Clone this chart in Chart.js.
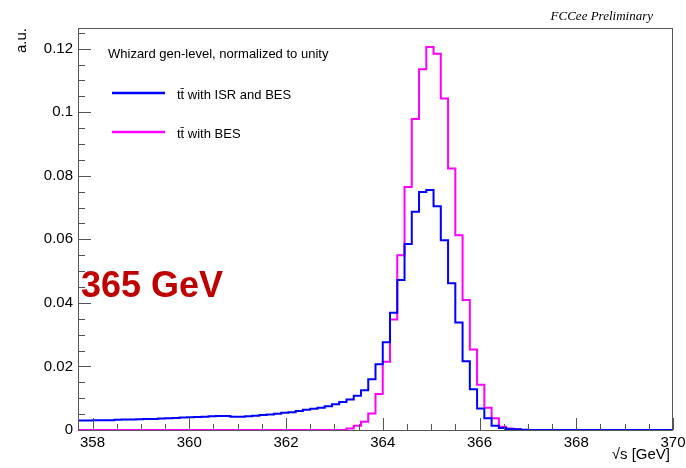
<!DOCTYPE html>
<html>
<head>
<meta charset="utf-8">
<script src="https://cdn.jsdelivr.net/npm/chart.js@4.4.1/dist/chart.umd.min.js"></script>
<style>
  body { margin: 0; background: #fff; }
  #wrap { width: 686px; height: 468px; }
</style>
</head>
<body>
<div id="wrap"><canvas id="myChart" width="686" height="468"></canvas></div>
<script>
// histogram binning: 0.15 GeV bins, visible range 357.7 - 370
const binLow = 357.7, binWidth = 0.15, xMax = 370;

const seriesNames = ['tt\u0304 with ISR and BES', 'tt\u0304 with BES'];

// tt with ISR and BES (blue)
const isrBes = [
  0.0030, 0.0030, 0.0031, 0.0031, 0.0031, 0.0032, 0.0033, 0.0033, 0.0034, 0.0035,
  0.0035, 0.0036, 0.0037, 0.0038, 0.0039, 0.0040, 0.0041, 0.0042, 0.0043, 0.0044,
  0.0044, 0.0042, 0.0042, 0.0043, 0.0045, 0.0047, 0.0049, 0.0051, 0.0054, 0.0056,
  0.0060, 0.0064, 0.0067, 0.0070, 0.0075, 0.0081, 0.0088, 0.0096, 0.0108, 0.0125,
  0.0160, 0.0207, 0.0276, 0.0369, 0.0472, 0.0585, 0.0687, 0.0749, 0.0755, 0.0704,
  0.0597, 0.0462, 0.0338, 0.0216, 0.0128, 0.0068, 0.0037, 0.0013, 0.0006, 0.0003,
  0.0002, 0.0001, 0, 0, 0, 0, 0, 0, 0, 0,
  0, 0, 0, 0, 0, 0, 0, 0, 0, 0,
  0, 0
];

// tt with BES only (magenta)
const besOnly = [
  0, 0, 0, 0, 0, 0, 0, 0, 0, 0,
  0, 0, 0, 0, 0, 0, 0, 0, 0, 0,
  0, 0, 0, 0, 0, 0, 0, 0, 0, 0,
  0, 0, 0, 0, 0, 0, 0, 0.0005, 0.0013, 0.0026,
  0.0052, 0.0113, 0.0215, 0.0348, 0.0550, 0.0765, 0.0979, 0.1135, 0.1205, 0.1184,
  0.1043, 0.0823, 0.0613, 0.0409, 0.0253, 0.0142, 0.0070, 0.0037, 0.0010, 0.0005,
  0.0002, 0, 0, 0, 0, 0, 0, 0, 0, 0,
  0, 0, 0, 0, 0, 0, 0, 0, 0, 0,
  0, 0
];

const xTicks = [358, 360, 362, 364, 366, 368, 370];
const xMinorStep = 0.5;
const yTicks = [0, 0.02, 0.04, 0.06, 0.08, 0.1, 0.12];
const yTickLabels = ['0', '0.02', '0.04', '0.06', '0.08', '0.1', '0.12'];
const yMinorStep = 0.005;
const yMax = 0.1265;

function histPoints(vals) {
  const pts = vals.map((v, i) => ({ x: +(binLow + i * binWidth).toFixed(2), y: v }));
  pts.push({ x: xMax, y: vals[vals.length - 1] });
  return pts;
}

const frameColor = '#555';
const sans = '"Liberation Sans", Arial, sans-serif';

const rootStyle = {
  id: 'rootStyle',
  afterDraw(chart) {
    const c = chart.ctx, a = chart.chartArea;
    const xs = chart.scales.x, ys = chart.scales.y;
    c.save();

    // frame
    c.strokeStyle = frameColor;
    c.lineWidth = 1;
    c.strokeRect(a.left + 0.5, a.top + 0.5, a.right - a.left - 1, a.bottom - a.top);

    // x ticks (inside)
    c.beginPath();
    for (let v = 358; v <= xMax + 1e-6; v += xMinorStep) {
      const px = Math.round(xs.getPixelForValue(v)) + 0.5;
      const major = Math.abs(v - Math.round(v / 2) * 2) < 1e-6;
      c.moveTo(px, a.bottom);
      c.lineTo(px, a.bottom - (major ? 12 : 6));
    }
    // y ticks (inside)
    for (let v = 0; v <= yMax + 1e-6; v += yMinorStep) {
      const py = Math.round(ys.getPixelForValue(v)) + 0.5;
      const major = Math.abs(v / 0.02 - Math.round(v / 0.02)) < 1e-6;
      c.moveTo(a.left, py);
      c.lineTo(a.left + (major ? 13 : 7), py);
    }
    c.stroke();

    // tick labels
    c.fillStyle = '#000';
    c.font = '15px ' + sans;
    c.textAlign = 'center';
    c.textBaseline = 'top';
    xTicks.forEach(v => c.fillText(String(v), xs.getPixelForValue(v), a.bottom + 5));
    c.textAlign = 'right';
    c.textBaseline = 'middle';
    yTicks.forEach((v, i) => c.fillText(yTickLabels[i], a.left - 5, ys.getPixelForValue(v)));

    // axis titles
    c.textAlign = 'right';
    c.fillText('\u221As [GeV]', 670, 455);
    c.save();
    c.translate(22, a.top);
    c.rotate(-Math.PI / 2);
    c.textAlign = 'right';
    c.fillText('a.u.', 0, 0);
    c.restore();

    // header
    c.font = 'italic 13px "Liberation Serif", "Times New Roman", serif';
    c.textAlign = 'right';
    c.fillText('FCCee Preliminary', 653, 17);

    // legend
    c.font = '13px ' + sans;
    c.textAlign = 'left';
    c.fillText('Whizard gen-level, normalized to unity', 108, 54);
    const legY = [93, 132];
    chart.data.datasets.forEach((ds, i) => {
      c.strokeStyle = ds.borderColor;
      c.lineWidth = 2.5;
      c.beginPath();
      c.moveTo(112, legY[i]);
      c.lineTo(165, legY[i]);
      c.stroke();
      c.fillStyle = '#000';
      c.fillText(ds.label, 177, legY[i] + 2);
    });

    // energy label
    c.font = 'bold 36px ' + sans;
    c.fillStyle = '#c00000';
    c.fillText('365 GeV', 81, 287);

    c.restore();
  }
};

const ctx = document.getElementById('myChart');

new Chart(ctx, {
  type: 'line',
  data: {
    datasets: [{
      label: seriesNames[0],
      data: histPoints(isrBes),
      borderColor: '#0000ff',
      borderWidth: 2,
      stepped: 'before',
      pointRadius: 0,
      fill: false
    },
    {
      label: seriesNames[1],
      data: histPoints(besOnly),
      borderColor: '#ff00ff',
      borderWidth: 2,
      stepped: 'before',
      pointRadius: 0,
      fill: false
    }]
  },
  options: {
    responsive: false,
    animation: false,
    devicePixelRatio: 1,
    layout: { padding: { left: 78, right: 13, top: 28, bottom: 38 } },
    plugins: {
      legend: { display: false },
      tooltip: { enabled: false }
    },
    scales: {
      x: { type: 'linear', min: binLow, max: xMax, display: false },
      y: { type: 'linear', min: 0, max: yMax, display: false }
    }
  },
  plugins: [rootStyle]
});
</script>
</body>
</html>
